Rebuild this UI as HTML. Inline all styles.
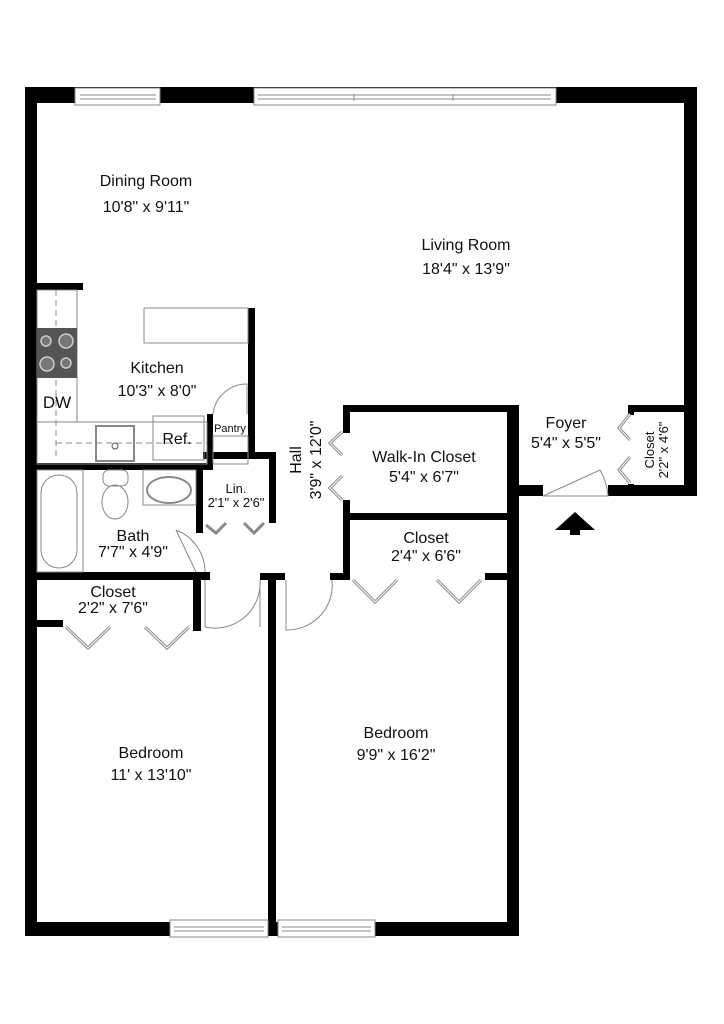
<!DOCTYPE html>
<html><head><meta charset="utf-8"><style>
html,body{margin:0;padding:0;background:#fff}
svg{display:block}
text{font-family:"Liberation Sans",Arial,sans-serif;fill:#111}
</style></head><body>
<svg width="724" height="1024" viewBox="0 0 724 1024" xmlns="http://www.w3.org/2000/svg">
<rect width="724" height="1024" fill="#fff"/>
<g fill="#000">
<!-- outer walls -->
<rect x="25" y="87" width="672" height="16"/>
<rect x="25" y="87" width="12" height="849"/>
<rect x="684" y="87" width="13" height="409"/>
<rect x="25" y="922" width="494" height="14"/>
<rect x="507" y="405" width="12" height="531"/>
<rect x="507" y="485" width="36" height="11"/>
<rect x="608" y="485" width="89" height="11"/>
<!-- kitchen -->
<rect x="25" y="283" width="58" height="7"/>
<rect x="248" y="308" width="7" height="145"/>
<rect x="207" y="414" width="6" height="50"/>
<rect x="25" y="463" width="188" height="7"/>
<rect x="196" y="463" width="7" height="70"/>
<rect x="203" y="452" width="73" height="7"/>
<rect x="269" y="452" width="7" height="71"/>
<!-- bath bottom / closet -->
<rect x="25" y="572" width="185" height="8"/>
<rect x="193" y="572" width="8" height="59"/>
<rect x="25" y="620" width="38" height="7"/>
<!-- bedroom divider -->
<rect x="260" y="573" width="25" height="7"/>
<rect x="268" y="573" width="8" height="362"/>
<rect x="330" y="573" width="20" height="7"/>
<!-- walk-in / closet -->
<rect x="343" y="405" width="170" height="7"/>
<rect x="343" y="405" width="7" height="28"/>
<rect x="343" y="500" width="7" height="80"/>
<rect x="343" y="513" width="170" height="7"/>
<rect x="485" y="573" width="28" height="7"/>
<!-- foyer closet -->
<rect x="628" y="405" width="56" height="7"/>
<rect x="628" y="405" width="6" height="10"/>
<rect x="628" y="484" width="6" height="10"/>
<!-- entry arrow -->
<polygon points="555,530 575,512 595,530"/>
<rect x="570" y="529" width="10" height="6"/>
</g>
<!-- windows -->
<g fill="#fff" stroke="#888" stroke-width="1">
<rect x="75" y="88" width="85" height="17"/>
<rect x="254" y="88" width="302" height="17"/>
<rect x="170" y="920" width="98" height="17"/>
<rect x="278" y="920" width="97" height="17"/>
</g>
<g stroke="#888" stroke-width="1" fill="none">
<line x1="80" y1="95" x2="156" y2="95"/><line x1="80" y1="99" x2="156" y2="99"/>
<line x1="258" y1="95" x2="551" y2="95"/><line x1="258" y1="99" x2="551" y2="99"/>
<line x1="354" y1="94" x2="354" y2="101"/><line x1="453" y1="94" x2="453" y2="101"/>
<line x1="174" y1="927" x2="264" y2="927"/><line x1="174" y1="931" x2="264" y2="931"/>
<line x1="282" y1="927" x2="371" y2="927"/><line x1="282" y1="931" x2="371" y2="931"/>
</g>
<!-- kitchen fixtures -->
<g stroke="#888" stroke-width="1" fill="none">
<rect x="37" y="290" width="40" height="132"/>
<rect x="37" y="422" width="170" height="42"/>
<rect x="144" y="308" width="104" height="35"/>
<rect x="153" y="416" width="51" height="44"/>
<rect x="96" y="426" width="38" height="35" stroke-width="2"/>
<rect x="213" y="436" width="35" height="28"/>
<path d="M213,414 A34,34 0 0 1 247,384 L247,414"/>
<line x1="56" y1="290" x2="56" y2="458" stroke-dasharray="6,4"/>
<line x1="56" y1="443" x2="207" y2="443" stroke-dasharray="6,4"/>
</g>
<rect x="37" y="328" width="40" height="50" fill="#555"/>
<g fill="#777" stroke="#ccc" stroke-width="1.5">
<circle cx="46" cy="341" r="5"/><circle cx="66" cy="341" r="7"/>
<circle cx="47" cy="364" r="7"/><circle cx="66" cy="363" r="5"/>
</g>
<circle cx="115" cy="446" r="3" fill="none" stroke="#555"/>
<!-- bath fixtures -->
<g stroke="#888" stroke-width="1" fill="none">
<rect x="37" y="470" width="46" height="102"/>
<rect x="41" y="475" width="36" height="93" rx="18"/>
<rect x="143" y="470" width="53" height="35"/>
<ellipse cx="169" cy="490" rx="22" ry="13" stroke-width="2"/>
<rect x="103" y="470" width="25" height="16" rx="6"/>
<ellipse cx="115" cy="502" rx="13" ry="17"/>
<line x1="83" y1="470" x2="83" y2="572"/>
<path d="M176,530 L196,572"/>
<path d="M176,530 A45,45 0 0 1 205,572" />
<path d="M205,580 L205,627 A45,45 0 0 0 260,580 M260,580 L260,627"/>
<path d="M286,580 L286,630 A45,45 0 0 0 332,580"/>
<path d="M543,496 L600,470 A60,60 0 0 1 608,496 Z"/>
</g>
<!-- bifold doors -->
<g stroke="#888" stroke-width="3" fill="none">
<polyline points="66,627 88,648 110,627"/>
<polyline points="145,627 167,648 189,627"/>
<polyline points="206,525 216,533 226,523"/>
<polyline points="244,523 254,533 264,523"/>
<polyline points="342,432 330,443 342,455"/>
<polyline points="342,476 330,488 342,500"/>
<polyline points="353,580 375,602 397,580"/>
<polyline points="437,580 459,602 481,580"/>
<polyline points="630,414 619,428 630,440"/>
<polyline points="630,457 619,470 630,483"/>
</g>
<g stroke="#fff" stroke-width="1" fill="none">
<polyline points="66,627 88,648 110,627"/>
<polyline points="145,627 167,648 189,627"/>
<polyline points="353,580 375,602 397,580"/>
<polyline points="437,580 459,602 481,580"/>
<polyline points="342,432 330,443 342,455"/>
<polyline points="342,476 330,488 342,500"/>
<polyline points="630,414 619,428 630,440"/>
<polyline points="630,457 619,470 630,483"/>
</g>
<!-- labels -->
<g font-size="16" text-anchor="middle">
<text x="146" y="186">Dining Room</text>
<text x="146" y="212">10'8" x 9'11"</text>
<text x="466" y="250">Living Room</text>
<text x="466" y="274">18'4" x 13'9"</text>
<text x="157" y="373">Kitchen</text>
<text x="157" y="396">10'3" x 8'0"</text>
<text x="57" y="408" font-size="17">DW</text>
<text x="177" y="444">Ref.</text>
<text x="230" y="432" font-size="11">Pantry</text>
<text x="236" y="493" font-size="13">Lin.</text>
<text x="236" y="507" font-size="13">2'1" x 2'6"</text>
<text x="133" y="541">Bath</text>
<text x="133" y="557">7'7" x 4'9"</text>
<text x="113" y="597">Closet</text>
<text x="113" y="613">2'2" x 7'6"</text>
<text x="424" y="462">Walk-In Closet</text>
<text x="424" y="482">5'4" x 6'7"</text>
<text x="426" y="543">Closet</text>
<text x="426" y="561">2'4" x 6'6"</text>
<text x="566" y="428">Foyer</text>
<text x="566" y="448">5'4" x 5'5"</text>
<text x="151" y="758">Bedroom</text>
<text x="151" y="780">11' x 13'10"</text>
<text x="396" y="738">Bedroom</text>
<text x="396" y="760">9'9" x 16'2"</text>
<text transform="translate(301,460) rotate(-90)">Hall</text>
<text transform="translate(321,460) rotate(-90)">3'9" x 12'0"</text>
<text transform="translate(654,450) rotate(-90)" font-size="13">Closet</text>
<text transform="translate(668,450) rotate(-90)" font-size="13">2'2" x 4'6"</text>
</g>
</svg>
</body></html>
